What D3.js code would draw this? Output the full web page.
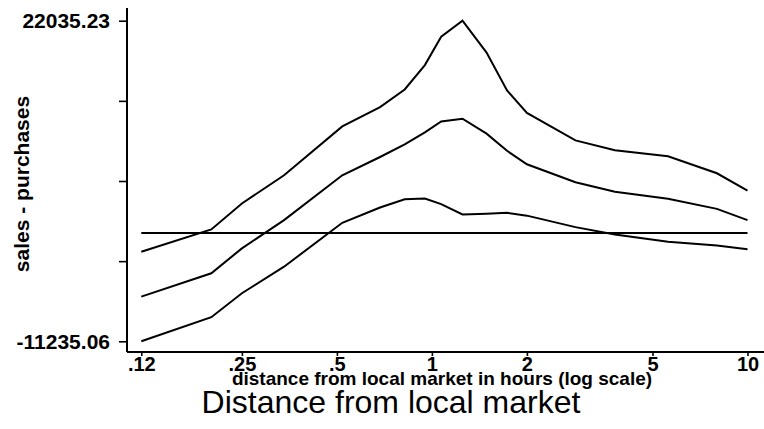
<!DOCTYPE html>
<html>
<head>
<meta charset="utf-8">
<script src="https://cdn.jsdelivr.net/npm/d3@7/dist/d3.min.js"></script>
<style>
  html, body { margin: 0; padding: 0; background: #fff; }
  svg { display: block; }
  text { font-family: "Liberation Sans", Arial, Helvetica, sans-serif; fill: #000; }
</style>
</head>
<body>
<svg id="chart" width="764" height="429"></svg>
<script>
// Travel time to the local market, hours (log axis)
const distance = [0.12, 0.2, 0.25, 0.34, 0.52, 0.685, 0.82, 0.95, 1.07, 1.25, 1.49, 1.73, 2.0, 2.85, 3.8, 5.6, 8.0, 10];

// Net sales (sales - purchases): upper band, fitted mean, lower band
const upperBand = [-1942, 376, 3067, 5996, 11067, 13065, 14896, 17432, 20381, 22035.23, 18725, 14793, 12464, 9618, 8583, 7962, 6203, 4392];
const meanLine  = [-6599, -4177, -1590, 1339, 5996, 7890, 9204, 10447, 11585, 11864, 10312, 8532, 7134, 5272, 4289, 3564, 2509, 1339];
const lowerBand = [-11235.06, -8731, -6247, -3494, 1060, 2653, 3512, 3585, 2995, 1929, 2012, 2094, 1805, 614, -162, -907, -1300, -1693];

// Axis ticks
const xTickValues = [0.12, 0.25, 0.5, 1, 2, 5, 10];
const xTickLabels = [".12", ".25", ".5", "1", "2", "5", "10"];
const yMin = -11235.06, yMax = 22035.23;
const yTickValues = [0, 1, 2, 3, 4].map(i => yMin + i * (yMax - yMin) / 4);
const yTickLabels = ["-11235.06", "", "", "", "22035.23"];
const referenceLevel = 0;

const svg = d3.select("#chart");
svg.append("rect").attr("width", 764).attr("height", 429).attr("fill", "#fff");

const x = d3.scaleLog().domain([0.12, 10]).range([141.3, 747.5]);
const y = d3.scaleLinear().domain([yMin, yMax]).range([341.3, 20.7]);

const plotLeft = 127, plotBottom = 352, plotTop = 8, plotRight = 764;

// curves
const line = d3.line()
  .x(d => x(d[0]))
  .y(d => y(d[1]));

[upperBand, meanLine, lowerBand].forEach(series => {
  svg.append("path")
    .datum(distance.map((d, i) => [d, series[i]]))
    .attr("fill", "none")
    .attr("stroke", "#000")
    .attr("stroke-width", 2)
    .attr("stroke-linejoin", "miter")
    .attr("d", line);
});

// zero reference line across the data range
svg.append("path")
  .datum([[distance[0], referenceLevel], [distance[distance.length - 1], referenceLevel]])
  .attr("fill", "none")
  .attr("stroke", "#000")
  .attr("stroke-width", 2)
  .attr("d", line);

// y axis
const yAxis = d3.axisLeft(y)
  .tickValues(yTickValues)
  .tickSize(8)
  .tickPadding(9)
  .tickFormat((d, i) => yTickLabels[i]);
const gy = svg.append("g").attr("transform", `translate(${plotLeft},0)`).call(yAxis);
gy.select(".domain").remove();
gy.selectAll(".tick line").attr("stroke", "#000").attr("stroke-width", 1.6);
gy.selectAll(".tick text")
  .style("font-size", "21px").style("font-weight", "bold").attr("fill", "#000");
svg.append("line")
  .attr("x1", plotLeft).attr("x2", plotLeft)
  .attr("y1", plotTop).attr("y2", plotBottom)
  .attr("stroke", "#000").attr("stroke-width", 2);

// x axis
const xAxis = d3.axisBottom(x)
  .tickValues(xTickValues)
  .tickSize(4)
  .tickPadding(1)
  .tickFormat((d, i) => xTickLabels[i]);
const gx = svg.append("g").attr("transform", `translate(0,${plotBottom})`).call(xAxis);
gx.select(".domain").remove();
gx.selectAll(".tick line").attr("stroke", "#000").attr("stroke-width", 1.6);
gx.selectAll(".tick text")
  .style("font-size", "20px").style("font-weight", "bold").attr("fill", "#000");
svg.append("line")
  .attr("x1", plotLeft).attr("x2", plotRight)
  .attr("y1", plotBottom).attr("y2", plotBottom)
  .attr("stroke", "#000").attr("stroke-width", 2);

// axis titles
svg.append("text")
  .attr("x", 442).attr("y", 385)
  .attr("text-anchor", "middle")
  .style("font-size", "19px").style("font-weight", "bold")
  .text("distance from local market in hours (log scale)");

svg.append("text")
  .attr("transform", "translate(29,184) rotate(-90)")
  .attr("text-anchor", "middle")
  .style("font-size", "21px").style("font-weight", "bold")
  .text("sales - purchases");

// graph title
svg.append("text")
  .attr("x", 391).attr("y", 413)
  .attr("text-anchor", "middle")
  .style("font-size", "32px")
  .text("Distance from local market");
</script>
</body>
</html>
